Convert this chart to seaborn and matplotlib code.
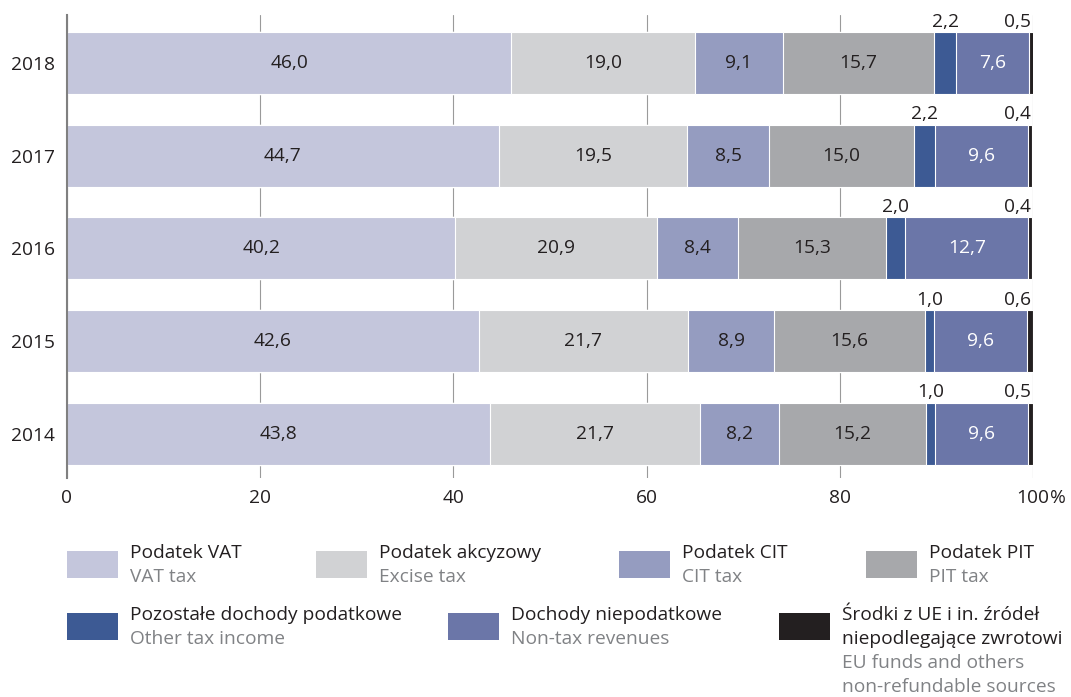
import numpy as np
import pandas as pd
import seaborn as sns
import matplotlib.pyplot as plt
from matplotlib.patches import Rectangle

years = ["2018", "2017", "2016", "2015", "2014"]
vat = [46.0, 44.7, 40.2, 42.6, 43.8]
excise = [19.0, 19.5, 20.9, 21.7, 21.7]
cit = [9.1, 8.5, 8.4, 8.9, 8.2]
pit = [15.7, 15.0, 15.3, 15.6, 15.2]
other_tax = [2.2, 2.2, 2.0, 1.0, 1.0]
non_tax = [7.6, 9.6, 12.7, 9.6, 9.6]
eu = [0.5, 0.4, 0.4, 0.6, 0.5]

# (polish label, english label, values, colour, text colour, where the value goes)
series = [
    (["Podatek VAT"], ["VAT tax"], vat, "#c4c6dc", "#231f20", "in"),
    (["Podatek akcyzowy"], ["Excise tax"], excise, "#d1d2d4", "#231f20", "in"),
    (["Podatek CIT"], ["CIT tax"], cit, "#959cc0", "#231f20", "in"),
    (["Podatek PIT"], ["PIT tax"], pit, "#a7a8ab", "#231f20", "in"),
    (["Pozostałe dochody podatkowe"], ["Other tax income"], other_tax, "#3d5a94", "#231f20", "above"),
    (["Dochody niepodatkowe"], ["Non-tax revenues"], non_tax, "#6b76a8", "white", "in"),
    (["Środki z UE i in. źródeł", "niepodlegające zwrotowi"],
     ["EU funds and others", "non-refundable sources"], eu, "#231f20", "#231f20", "right"),
]

sns.set_style("white")
plt.rcParams["font.family"] = ["Open Sans", "DejaVu Sans"]
DARK = "#231f20"
GREY = "#808285"
FS = 13.8

fig = plt.figure(figsize=(10.71, 6.97), dpi=100)
ax = fig.add_axes([67 / 1071, 1 - 478 / 697, (1033 - 67) / 1071, (478 - 15) / 697])

vals = np.array([s[2] for s in series])
cum = np.cumsum(vals, axis=0)

# stacked bars: draw running totals from the longest to the shortest
for i in range(len(series) - 1, -1, -1):
    sns.barplot(x=cum[i], y=years, order=years, orient="y", color=series[i][3],
                saturation=1, width=0.67, edgecolor="white", linewidth=0.8, ax=ax)

for j in range(len(years)):
    for i, s in enumerate(series):
        v = vals[i, j]
        left = cum[i, j] - v
        txt = f"{v:.1f}".replace(".", ",")
        if s[5] == "in":
            ax.text(left + v / 2, j, txt, ha="center", va="center", color=s[4], fontsize=FS)
        elif s[5] == "above":
            ax.text(left + v / 2, j - 0.35, txt, ha="center", va="bottom", color=DARK, fontsize=FS)
        else:
            ax.text(99.8, j - 0.35, txt, ha="right", va="bottom", color=DARK, fontsize=FS)

ax.set_xlim(0, 100)
ax.set_ylim(4.48, -0.52)
ax.set_xticks([0, 20, 40, 60, 80, 100])
ax.set_xticklabels(["0", "20", "40", "60", "80", "100"])
ax.tick_params(axis="both", length=0, labelsize=FS, colors=DARK)
ax.tick_params(axis="x", pad=8)
ax.tick_params(axis="y", pad=9)
# the % sign sits after the centred "100"
ax.annotate("%", xy=(100, 0), xycoords=("data", "axes fraction"), xytext=(12.2, -8),
            textcoords="offset points", ha="left", va="top", color=DARK, fontsize=FS)
ax.set_xlabel("")
ax.set_ylabel("")
ax.grid(axis="x", color="#9a9a9a", linewidth=0.8)
ax.grid(axis="y", visible=False)
ax.set_axisbelow(True)
for side in ["top", "right", "bottom"]:
    ax.spines[side].set_visible(False)
ax.spines["left"].set_color("#808080")
ax.spines["left"].set_linewidth(1.5)

# legend drawn in pixel coordinates on an overlay
lg = fig.add_axes([0, 0, 1, 1])
lg.set_xlim(0, 1071)
lg.set_ylim(697, 0)
lg.axis("off")
slots = [(67, 551), (316, 551), (619, 551), (866, 551), (67, 613), (448, 613), (779, 613)]
for (px, py), s in zip(slots, series):
    lg.add_patch(Rectangle((px, py), 51, 27, color=s[3], lw=0))
    y = py + 2
    for line in s[0]:
        lg.text(px + 63, y, line, va="center", ha="left", color=DARK, fontsize=FS)
        y += 24
    for line in s[1]:
        lg.text(px + 63, y, line, va="center", ha="left", color=GREY, fontsize=FS)
        y += 24

fig.savefig("out.png", dpi=100)
